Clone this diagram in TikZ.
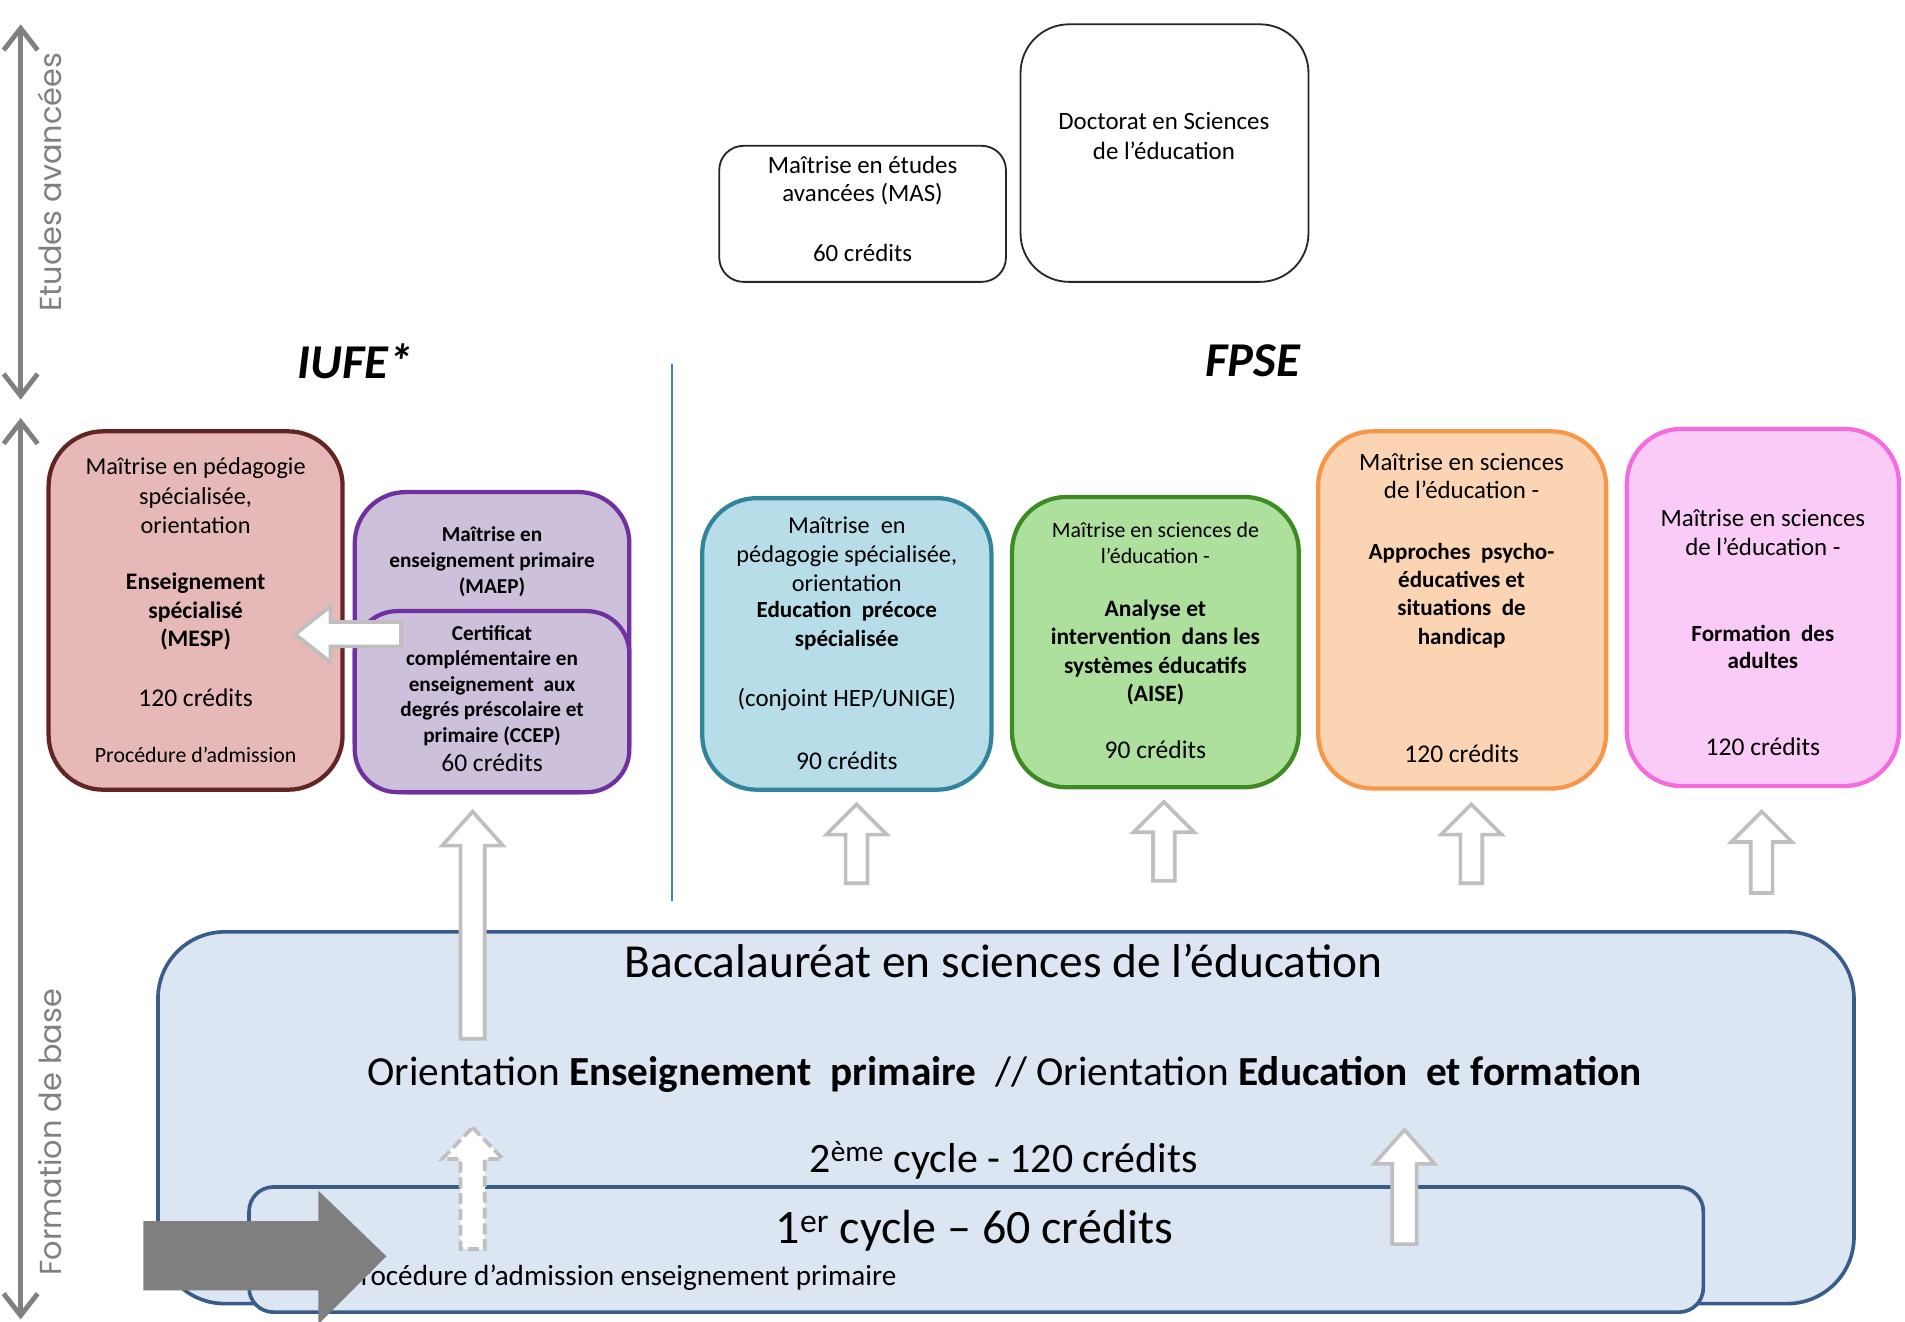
\documentclass[tikz,border=0pt]{standalone}
\usepackage{fontspec}
\setmainfont{Carlito}
\newfontfamily\gothic{Poppins}
\usetikzlibrary{arrows.meta}
\definecolor{sidegray}{HTML}{808080}
\definecolor{arrgray}{HTML}{BFBFBF}
\definecolor{sepblue}{HTML}{4A7EBB}
\definecolor{redfill}{HTML}{E6B9B8}
\definecolor{redline}{HTML}{632523}
\definecolor{purfill}{HTML}{CCC0DA}
\definecolor{purline}{HTML}{7030A0}
\definecolor{bluefill}{HTML}{B7DEE8}
\definecolor{blueline}{HTML}{31849B}
\definecolor{grnfill}{HTML}{ADDF9D}
\definecolor{grnline}{HTML}{3D8B22}
\definecolor{orgfill}{HTML}{FBD4B4}
\definecolor{orgline}{HTML}{F79646}
\definecolor{pnkfill}{HTML}{FBCBF8}
\definecolor{pnkline}{HTML}{F66AE0}
\definecolor{bacfill}{HTML}{DCE6F2}
\definecolor{bacline}{HTML}{385D8A}
\definecolor{darkarrow}{HTML}{7F7F7F}
\newcommand{\fz}[2]{\fontsize{#1}{#2}\selectfont}
% block up arrow: x, ytip, ybase, head half width, head length, shaft half width, style
\newcommand{\blkup}[7]{%
  \draw[#7] (#1,#2) -- (#1+#4,#2+#5) -- (#1+#6,#2+#5) -- (#1+#6,#3) -- (#1-#6,#3) -- (#1-#6,#2+#5) -- (#1-#4,#2+#5) -- cycle;}
\tikzset{
  box/.style={draw, line width=3.5pt, inner sep=0pt},
  plainbox/.style={draw=black!85, line width=1.5pt, inner sep=0pt},
  txt/.style={align=center, inner sep=0pt, text=black},
  sidearrow/.style={draw=sidegray, line width=4pt, {Straight Barb[length=18pt,width=28pt]}-{Straight Barb[length=18pt,width=28pt]}},
  hollow/.style={draw=arrgray, fill=white, line width=3pt, line join=miter},
  title/.style={inner sep=0pt, font=\fz{40}{48}\bfseries\itshape},
}
\begin{document}
\begin{tikzpicture}[x=1pt,y=-1pt]
\useasboundingbox (0,0) rectangle (1568,1088);
\fill[white] (0,0) rectangle (1568,1088);

% side arrows
\coordinate (eaTop) at (17,20);
\coordinate (eaBot) at (17,329);
\coordinate (fbTop) at (17,344);
\coordinate (fbBot) at (17,1086);
\draw[sidearrow] (eaTop) -- (eaBot);
\draw[sidearrow] (fbTop) -- (fbBot);
\node[rotate=90, inner sep=0pt, text=sidegray, font=\gothic\fz{25}{30}] (ealabel) at (41,150) {Etudes avancées};
\node[rotate=90, inner sep=0pt, text=sidegray, font=\gothic\fz{25}{30}] (fblabel) at (41,932) {Formation de base};

% titles
\node[title] (iufe) at (292,297) {IUFE*};
\node[title] (fpse) at (1031,297) {FPSE};
\coordinate (sepTop) at (553,300);
\coordinate (sepBot) at (553,742);
\draw[sepblue, line width=1.2pt] (sepTop) -- (sepBot);

% advanced studies
\node[plainbox, rounded corners=20pt, minimum width=236pt, minimum height=112pt] (mas) at (710,176) {};
\node[txt, font=\fz{20.5}{23}] (mast) at (710,149) {Maîtrise en études\\avancées (MAS)};
\node[txt, font=\fz{20.5}{23}] (masc) at (710,208) {60 crédits};
\node[plainbox, rounded corners=40pt, minimum width=237pt, minimum height=212pt] (doc) at (958.5,126) {};
\node[txt, font=\fz{20.5}{24}] (doct) at (958,112) {Doctorat en Sciences\\de l’éducation};

% IUFE boxes
\node[box, draw=redline, fill=redfill, rounded corners=45pt, minimum width=242pt, minimum height=295pt] (mesp) at (161,502.5) {};
\node[txt, font=\fz{20}{24}] (mesp1) at (161,408) {Maîtrise en pédagogie\\spécialisée,\\orientation};
\node[txt, font=\fz{19.5}{23.5}\bfseries] (mesp2) at (161,503.5) {Enseignement\\spécialisé\\(MESP)};
\node[txt, font=\fz{21}{24}] (mesp3) at (161,574) {120 crédits};
\node[txt, font=\fz{18}{20}] (mesp4) at (161,621) {Procédure d’admission};

\node[box, draw=purline, fill=purfill, rounded corners=42pt, minimum width=226pt, minimum height=247pt] (maep) at (405,528.5) {};
\node[txt, font=\fz{17.5}{21.5}\bfseries] (maep1) at (405,462.5) {Maîtrise en\\enseignement primaire\\(MAEP)};
\node[box, draw=purline, fill=purfill, rounded corners=35pt, minimum width=226pt, minimum height=149pt] (ccep) at (405,577.5) {};
\node[txt, font=\fz{17.5}{21}\bfseries] (ccep1) at (405,564) {Certificat\\complémentaire en\\enseignement\ \ aux\\degrés préscolaire et\\primaire (CCEP)};
\node[txt, font=\fz{21}{22}] (ccep2) at (405,628) {60 crédits};

% FPSE boxes
\node[box, draw=blueline, fill=bluefill, rounded corners=45pt, minimum width=238pt, minimum height=240pt] (eps) at (697,530) {};
\node[txt, font=\fz{20}{24}] (eps1) at (697,456) {Maîtrise\ \ en\\pédagogie spécialisée,\\orientation};
\node[txt, font=\fz{19}{24}\bfseries] (eps2) at (697,515) {Education\ \ précoce\\spécialisée};
\node[txt, font=\fz{20.5}{24}] (eps3) at (697,576) {(conjoint HEP/UNIGE)};
\node[txt, font=\fz{21}{24}] (eps4) at (697,626) {90 crédits};

\node[box, draw=grnline, fill=grnfill, rounded corners=45pt, minimum width=236pt, minimum height=239pt] (aise) at (951,528.5) {};
\node[txt, font=\fz{18}{22}] (aise1) at (951,447) {Maîtrise en sciences de\\l’éducation -};
\node[txt, font=\fz{19.3}{23.3}\bfseries] (aise2) at (951,537) {Analyse et\\intervention\ \ dans les\\systèmes éducatifs\\(AISE)};
\node[txt, font=\fz{21}{24}] (aise3) at (951,617) {90 crédits};

\node[box, draw=orgline, fill=orgfill, rounded corners=45pt, minimum width=237pt, minimum height=294pt] (apsh) at (1203.5,502) {};
\node[txt, font=\fz{20.5}{23}] (apsh1) at (1203,391.5) {Maîtrise en sciences\\de l’éducation -};
\node[txt, font=\fz{19}{23.3}\bfseries] (apsh2) at (1203,490) {Approches\ \ psycho-\\éducatives et\\situations\ \ de\\handicap};
\node[txt, font=\fz{21}{24}] (apsh3) at (1203,620) {120 crédits};

\node[box, draw=pnkline, fill=pnkfill, rounded corners=45pt, minimum width=224pt, minimum height=294pt] (fa) at (1451,500) {};
\node[txt, font=\fz{20.5}{24}] (fa1) at (1451,438) {Maîtrise en sciences\\de l’éducation -};
\node[txt, font=\fz{19}{23}\bfseries] (fa2) at (1451,532.5) {Formation\ \ des\\adultes};
\node[txt, font=\fz{21}{24}] (fa3) at (1451,615) {120 crédits};

% bachelor
\node[box, draw=bacline, fill=bacfill, line width=3pt, rounded corners=55pt, minimum width=1396pt, minimum height=306pt] (bac) at (828,920) {};
\node[box, draw=bacline, fill=bacfill, line width=3pt, rounded corners=20pt, minimum width=1197pt, minimum height=103pt] (cyc1) at (803.5,1028.5) {};
\node[txt, font=\fz{39}{44}] (bac1) at (826,791) {Baccalauréat en sciences de l’éducation};
\node[txt, font=\fz{34}{40}] (bac2) at (827,884) {Orientation \textbf{Enseignement\ \ primaire}\ \ // Orientation \textbf{Education\ \ et formation}};
\node[txt, font=\fz{34.5}{40}] (bac3) at (826,955) {2\textsuperscript{ème} cycle - 120 crédits};
\node[txt, font=\fz{39.5}{44}] (cyc1t) at (802,1013) {1\textsuperscript{er} cycle – 60 crédits};
\node[txt, font=\fz{24}{28}, anchor=east] (cyc1p) at (738,1052) {Procédure d’admission enseignement primaire};

% hollow arrows
\blkup{705}{662}{727}{25}{25}{9}{hollow}
\blkup{958}{660}{725}{25}{25}{9}{hollow}
\blkup{1211}{662}{727}{25}{25}{9}{hollow}
\blkup{1450}{668}{735}{25}{25}{9}{hollow}
\blkup{389}{668}{855}{25}{28}{10}{hollow}
\blkup{389}{928}{1028}{25}{26}{10}{hollow, dash pattern=on 9pt off 4pt}
\blkup{1156}{930}{1024}{25}{28}{10}{hollow}
% left arrow into MESP
\draw[hollow] (243,522) -- (272,499) -- (272,512) -- (330,512) -- (330,532) -- (272,532) -- (272,545) -- cycle;

% big gray arrow
\fill[darkarrow] (118,1005) -- (262,1005) -- (262,980) -- (318,1034) -- (262,1090) -- (262,1062) -- (118,1062) -- cycle;
\end{tikzpicture}
\end{document}
